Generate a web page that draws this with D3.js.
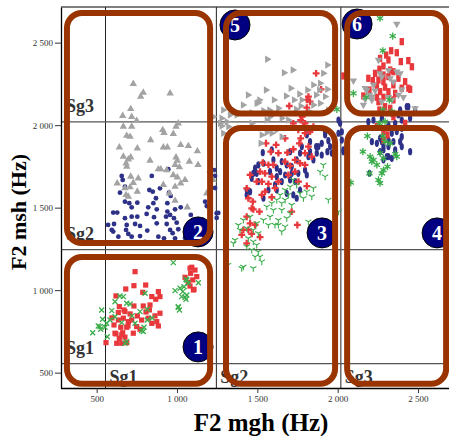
<!DOCTYPE html>
<html><head><meta charset="utf-8">
<script src="https://cdn.jsdelivr.net/npm/d3@7"></script>
<style>body{margin:0;background:#fff}svg{display:block}</style>
</head><body>
<svg id="c" width="449" height="436"></svg>
<script>
// ---------- data (Hz) ----------
const xTicks=[500,1000,1500,2000,2500];
const yTicks=[500,1000,1500,2000,2500];
const divisions=[555,1245,2020];
const sgNames=["Sg1","Sg2","Sg3"];
const zoneNumbers=[1,2,3,4,5,6];
const zoneCentres=[[1131,656],[1131,1353],[1903,1347],[2619,1347],[1361,2607],[2121,2613]];
const zoneBoxes=[[315,1206,432,1201],[315,1206,1286,2680],[1305,1984,432,1983],[2059,2675,432,1983],[1305,1984,2071,2680],[2059,2675,2071,2680]];

const navyDots=[[946,1733],[656,1692],[843,1692],[1231,1728],[1237,1692],[662,1668],[676,1627],[645,1591],[828,1607],[849,1597],[894,1617],[869,1557],[950,1591],[961,1571],[676,1536],[703,1527],[753,1530],[940,1527],[853,1527],[1175,1536],[1185,1510],[718,1502],[821,1502],[874,1490],[988,1490],[1023,1502],[603,1470],[628,1470],[811,1462],[940,1476],[957,1456],[676,1436],[718,1445],[753,1445],[857,1442],[932,1445],[981,1436],[1086,1456],[1247,1466],[608,1401],[687,1395],[739,1401],[770,1389],[874,1405],[936,1401],[998,1409],[603,1355],[683,1365],[697,1341],[815,1361],[957,1365],[973,1345],[1008,1369],[884,1324],[635,1324],[919,1314],[988,1314],[594,1365],[770,1328],[1050,1316],[718,1324],[1237,1619],[1257,1468],[1247,1438],[571,1395],[801,1292],[1081,1292]];
const grayUp=[[728,2250],[790,2197],[774,2173],[957,2193],[712,2098],[662,2057],[718,2051],[749,2027],[666,1991],[718,1991],[1008,2011],[994,1991],[911,1971],[919,1953],[977,1947],[687,1936],[708,1930],[836,1910],[1023,1880],[641,1866],[753,1860],[915,1866],[940,1866],[1071,1874],[1127,1842],[666,1809],[697,1793],[712,1805],[832,1785],[994,1805],[1002,1785],[1077,1779],[1131,1759],[683,1769],[687,1749],[988,1759],[1015,1745],[884,1733],[899,1733],[936,1728],[712,1688],[759,1678],[977,1698],[1002,1684],[1050,1668],[628,1648],[728,1651],[676,1618],[708,1624],[915,1638],[988,1627],[1023,1648],[683,1577],[697,1567],[753,1597],[952,1587],[988,1542],[1064,1502],[1185,1587],[1206,1728],[1224,1668]];
const redSquares=[[739,1112],[732,1027],[805,1031],[787,987],[884,991],[843,961],[894,961],[868,945],[681,1007],[620,965],[1092,1139],[1112,1122],[1085,1102],[1123,1082],[1098,1062],[1070,1048],[1106,1005],[1081,1025],[1050,1078],[641,900],[676,870],[635,864],[708,856],[790,904],[832,910],[894,860],[863,844],[828,880],[753,844],[608,789],[635,819],[666,830],[697,809],[718,819],[650,775],[687,775],[614,739],[662,742],[641,708],[656,678],[625,678],[749,779],[780,819],[821,830],[874,809],[884,783],[843,799],[770,763],[728,739],[676,715],[558,682],[687,682],[620,735],[656,729],[1081,1133],[1102,1001],[670,880],[732,904],[695,783],[595,832],[807,868]];
const greenCrosses=[[977,1167],[1056,1066],[1070,1042],[1044,1021],[1036,991],[1061,971],[988,997],[1056,945],[1008,900],[1015,880],[1133,1045],[801,981],[666,961],[614,930],[687,921],[708,916],[531,880],[594,876],[770,870],[815,884],[537,824],[583,819],[510,783],[525,763],[552,775],[475,742],[614,839],[739,799],[795,775],[780,755],[815,819],[566,718],[687,688],[656,803],[645,965],[676,678],[521,779],[562,799],[790,749],[1029,961],[1050,957],[1008,896],[1061,1062],[1019,1012],[720,844],[845,831]];
const navyOvals2=[[1922,1941],[1942,1906],[1953,1870],[1936,1839],[1964,1830],[1866,1870],[1828,1839],[1818,1809],[1870,1830],[1849,1789],[1777,1870],[1766,1830],[1704,1839],[1745,1789],[1683,1759],[1714,1749],[1652,1779],[1621,1739],[1642,1718],[1673,1698],[1714,1708],[1755,1708],[1797,1728],[1808,1698],[1704,1668],[1735,1658],[1621,1688],[1579,1718],[1538,1769],[1506,1759],[1486,1739],[1496,1708],[1534,1833],[1590,1850],[1600,1789],[1475,1708],[1465,1678],[1506,1658],[1434,1607],[1455,1597],[1434,1577],[1569,1607],[1610,1638],[1621,1607],[1652,1658],[1745,1557],[1724,1577],[1683,1587],[1766,1607],[1538,1557],[1901,1890],[1828,1900],[1808,1941],[2015,2011],[2026,1960],[2036,1839],[1922,1965],[1880,1870],[1901,1819]];
const redPlus=[[1617,1880],[1584,1839],[1631,1830],[1687,1833],[1724,1854],[1762,1890],[1770,1920],[1797,1951],[1828,1961],[1849,1991],[1787,1991],[1724,2011],[1818,1870],[1839,1809],[1797,1830],[1766,1769],[1735,1789],[1704,1753],[1673,1779],[1600,1759],[1569,1759],[1534,1773],[1517,1718],[1548,1708],[1590,1688],[1496,1658],[1528,1658],[1569,1644],[1610,1618],[1631,1658],[1693,1698],[1735,1718],[1756,1658],[1808,1631],[1548,1597],[1528,1577],[1590,1563],[1444,1557],[1472,1536],[1475,1490],[1513,1476],[1714,1476],[1455,1405],[1486,1395],[1444,1365],[1403,1335],[1465,1341],[1517,1321],[1434,1284],[1749,1395],[1797,1759],[1866,2314],[1818,2173],[1808,2153],[1828,2142],[1699,2116],[1808,2106],[1770,2031],[1797,2011],[1755,1971],[1839,1971],[1780,2051],[1673,1920],[1554,1890],[1897,2217],[1434,1617],[1465,1496],[1434,1445],[1413,1365],[1455,1698]];
const greenWyes=[[1911,1759],[1891,1718],[1922,1688],[1724,1668],[1745,1638],[1704,1627],[1673,1607],[1642,1577],[1693,1577],[1766,1587],[1808,1597],[1849,1617],[1839,1567],[1787,1557],[1942,1547],[1673,1547],[1621,1547],[1590,1527],[1652,1527],[1714,1516],[1559,1506],[1600,1486],[1652,1486],[1704,1466],[1683,1436],[1631,1425],[1610,1395],[1673,1385],[1652,1355],[1818,1415],[1579,1445],[1538,1425],[1496,1405],[1455,1445],[1413,1425],[1382,1395],[1434,1375],[1392,1365],[1475,1365],[1506,1345],[1444,1314],[1475,1294],[1496,1274],[1434,1264],[1465,1244],[1506,1233],[1351,1284],[1486,1203],[1413,1142],[1475,1133],[1528,1173],[2005,1476],[1569,1395],[1631,1395],[1403,1133],[1517,1203],[1318,1153],[1361,1304]];
const grayRight=[[1562,2399],[1666,2318],[1721,2334],[1936,2365],[1911,2314],[1554,2213],[1708,2224],[1812,2213],[1849,2244],[1891,2254],[1886,2213],[1936,2217],[1513,2153],[1679,2177],[1762,2189],[1866,2183],[1922,2173],[1777,2153],[1496,2133],[1538,2088],[1575,2092],[1631,2102],[1741,2096],[1770,2116],[1849,2122],[1891,2133],[1288,2092],[1330,2062],[1278,2042],[1372,2062],[1579,2051],[1559,2031],[1652,2042],[1693,2031],[1528,1941],[1621,1971],[1652,1930],[1278,1995],[1320,1991],[1465,2076],[1506,2136],[1465,2011],[1559,1955],[1590,1951],[1521,1890],[1226,2051],[1268,2011],[1310,2021],[1288,1951],[1411,2122],[1442,2183],[1604,2153],[1729,2153],[1828,2080],[1942,2092],[1351,2092]];
const redBars=[[2399,2506],[2333,2451],[2368,2439],[2302,2425],[2264,2405],[2316,2395],[2393,2385],[2440,2391],[2462,2354],[2285,2359],[2260,2339],[2327,2334],[2347,2324],[2233,2314],[2285,2304],[2316,2294],[2378,2284],[2191,2284],[2219,2270],[2254,2274],[2285,2264],[2420,2264],[2347,2244],[2399,2224],[2440,2224],[2244,2237],[2295,2230],[2198,2213],[2264,2203],[2316,2203],[2358,2193],[2160,2177],[2244,2169],[2285,2169],[2347,2153],[2254,2142],[2295,2112],[2327,2102],[2260,2092],[2347,2051],[2244,1991],[2285,1961],[2310,1941],[2285,1910],[2420,2011],[2036,2298],[2451,2217]];
const grayDown=[[2368,2613],[2368,2324],[2389,2314],[2264,2314],[2098,2270],[2223,2244],[2181,2213],[2233,2209],[2399,2217],[2409,2169],[2171,2157],[2213,2153],[2316,2169],[2337,2153],[2160,2122],[2275,2142],[2482,2102],[2198,2183],[2378,2183],[2327,2284],[2347,2264],[2254,2395],[2316,2334],[2275,2294],[2171,2224],[2213,2173]];
const greenStars=[[2264,2648],[2343,2540],[2281,2451],[2177,2169],[2322,2153],[2281,2092],[2337,2082],[2295,2021],[2260,2011],[2185,1934],[2281,1934],[2295,1900],[2327,1890],[2157,1839],[2202,1809],[2223,1789],[2264,1830],[2285,1799],[2358,1825],[2368,1809],[2213,1779],[2244,1759],[2310,1749],[2285,1728],[2198,1708],[2275,1708],[2254,1668],[2264,1648],[1995,2096],[2082,1652],[2098,2193]];
const navyOvals3=[[2440,2112],[2482,2092],[2389,2092],[2451,2042],[2399,2031],[2358,2011],[2316,2001],[2399,1981],[2368,1961],[2337,1951],[2399,1930],[2389,1900],[2347,1900],[2316,1910],[2275,1900],[2213,1900],[2244,1890],[2316,1870],[2358,1850],[2399,1870],[2451,1839],[2285,1850],[2306,1809],[2337,1799],[2198,1708],[2005,2031],[2005,1951],[2191,2021],[2223,2031],[2275,2042],[2337,2072],[2378,2062],[2430,2112],[2264,1920],[2285,1870],[2264,1839],[2316,1809],[2285,1789],[2026,1910],[2036,1850]];

// ---------- layout ----------
const L=61,R=449,T=7,B=388;
const x=d3.scaleLinear().domain([278,2693]).range([L,R]);
const y=d3.scaleLinear().domain([407,2716]).range([B,T]);
const NAVY="#2e3188",RED="#e8383c",GREEN="#3aad4a",GRAY="#a3a3a3",BROWN="#993300";
const serif="'Liberation Serif','Times New Roman',serif";
const fmt=d3.formatLocale({decimal:",",thousands:" ",grouping:[3],currency:["",""]}).format(",");
const svg=d3.select("#c");

svg.append("defs").append("clipPath").attr("id","pc").append("rect")
  .attr("x",L).attr("y",T).attr("width",R-L+5).attr("height",B-T);

// frame top
svg.append("line").attr("x1",L).attr("x2",R+5).attr("y1",T).attr("y2",T).attr("stroke","#000").attr("stroke-width",1.2);

// division lines
svg.append("g").selectAll("line").data(divisions).join("line")
  .attr("x1",d=>x(d)).attr("x2",d=>x(d)).attr("y1",T).attr("y2",B)
  .attr("stroke","#222").attr("stroke-width",1);
svg.append("g").selectAll("line").data(divisions).join("line")
  .attr("x1",L).attr("x2",R+5).attr("y1",d=>y(d)).attr("y2",d=>y(d))
  .attr("stroke","#555").attr("stroke-width",1.2);

// Sg labels
const lab=svg.append("g").attr("font-family",serif).attr("font-weight","bold").attr("font-size",18).attr("fill","#333");
lab.selectAll(".ly").data(divisions).join("text").attr("class","ly")
  .attr("x",L+5).attr("y",d=>y(d)-10).text((d,i)=>sgNames[i]);
lab.selectAll(".lx").data(divisions).join("text").attr("class","lx")
  .attr("x",d=>x(d)+4).attr("y",B-5).text((d,i)=>sgNames[i]);

// axes
const ax=d3.axisLeft(y).tickValues(yTicks).tickFormat(fmt).tickSizeInner(6).tickSizeOuter(0).tickPadding(2);
const bx=d3.axisBottom(x).tickValues(xTicks).tickFormat(fmt).tickSizeInner(5).tickSizeOuter(0).tickPadding(3);
const gy=svg.append("g").attr("transform",`translate(${L},0)`).call(ax);
const gx=svg.append("g").attr("transform",`translate(0,${B})`).call(bx);
[gy,gx].forEach(g=>{
  g.selectAll("text").attr("font-family",serif).attr("font-size",9).attr("fill","#333");
  g.select(".domain").attr("stroke","#000").attr("stroke-width",1.3);
  g.selectAll(".tick line").attr("stroke","#333");
});
gx.select(".domain").attr("d",`M${L},0.5H${R+5}`);

// points
const pg=svg.append("g").attr("clip-path","url(#pc)");
const tr=d=>`translate(${x(d[0])},${y(d[1])})`;
pg.append("g").selectAll("circle").data(navyDots).join("circle")
  .attr("cx",d=>x(d[0])).attr("cy",d=>y(d[1])).attr("r",2.4).attr("fill",NAVY);
pg.append("g").selectAll("ellipse").data(navyOvals2.concat(navyOvals3)).join("ellipse")
  .attr("cx",d=>x(d[0])).attr("cy",d=>y(d[1])).attr("rx",2.1).attr("ry",3.6).attr("fill",NAVY);
pg.append("g").selectAll("rect").data(redSquares).join("rect")
  .attr("x",d=>x(d[0])-2.6).attr("y",d=>y(d[1])-2.6).attr("width",5.2).attr("height",5.2).attr("fill",RED);
pg.append("g").selectAll("rect").data(redBars).join("rect")
  .attr("x",d=>x(d[0])-2.2).attr("y",d=>y(d[1])-3.6).attr("width",4.4).attr("height",7.2).attr("fill",RED);
const crossPath=d3.symbol(d3.symbolCross,26)();
pg.append("g").selectAll("path").data(redPlus).join("path")
  .attr("d",crossPath).attr("transform",tr).attr("fill",RED);
const tri=d3.symbol(d3.symbolTriangle,24)();
pg.append("g").selectAll("path").data(grayUp).join("path")
  .attr("d",tri).attr("transform",tr).attr("fill",GRAY);
pg.append("g").selectAll("path").data(grayRight).join("path")
  .attr("d",tri).attr("transform",d=>tr(d)+" rotate(90)").attr("fill",GRAY);
pg.append("g").selectAll("path").data(grayDown).join("path")
  .attr("d",tri).attr("transform",d=>tr(d)+" rotate(180)").attr("fill",GRAY);
pg.append("g").selectAll("path").data(greenCrosses).join("path")
  .attr("d","M-2.5,-2.5L2.5,2.5M-2.5,2.5L2.5,-2.5").attr("transform",tr)
  .attr("stroke",GREEN).attr("stroke-width",1.3).attr("fill","none");
pg.append("g").selectAll("path").data(greenWyes).join("path")
  .attr("d","M0,0L0,3.6M0,0L-3.1,-1.8M0,0L3.1,-1.8").attr("transform",tr)
  .attr("stroke",GREEN).attr("stroke-width",1.1).attr("fill","none");
pg.append("g").selectAll("path").data(greenStars).join("path")
  .attr("d","M0,-3.6L0,3.6M-3.1,-1.8L3.1,1.8M-3.1,1.8L3.1,-1.8").attr("transform",tr)
  .attr("stroke",GREEN).attr("stroke-width",1.3).attr("fill","none");

// numbered circles
const cg=svg.append("g");
cg.selectAll("circle").data(zoneCentres).join("circle")
  .attr("cx",d=>x(d[0])).attr("cy",d=>y(d[1])).attr("r",15)
  .attr("fill","#000080").attr("stroke","#000").attr("stroke-width",1);
cg.selectAll("text").data(zoneCentres).join("text")
  .attr("x",d=>x(d[0])).attr("y",d=>y(d[1])).attr("dy","0.35em").attr("text-anchor","middle")
  .attr("font-family",serif).attr("font-weight","bold").attr("font-size",20).attr("fill","#fff")
  .text((d,i)=>zoneNumbers[i]);

// zone boxes
svg.append("g").selectAll("rect").data(zoneBoxes).join("rect")
  .attr("x",d=>x(d[0])).attr("width",d=>x(d[1])-x(d[0]))
  .attr("y",d=>y(d[3])).attr("height",d=>y(d[2])-y(d[3]))
  .attr("rx",15).attr("ry",15).attr("fill","none")
  .attr("stroke",BROWN).attr("stroke-width",6);

// axis titles
svg.append("text").attr("x",261).attr("y",431).attr("text-anchor","middle")
  .attr("font-family",serif).attr("font-weight","bold").attr("font-size",25).text("F2 mgh (Hz)");
svg.append("text").attr("transform","translate(25.5,212) rotate(-90)").attr("text-anchor","middle")
  .attr("font-family",serif).attr("font-weight","bold").attr("font-size",22).text("F2 msh (Hz)");
</script>
</body></html>
